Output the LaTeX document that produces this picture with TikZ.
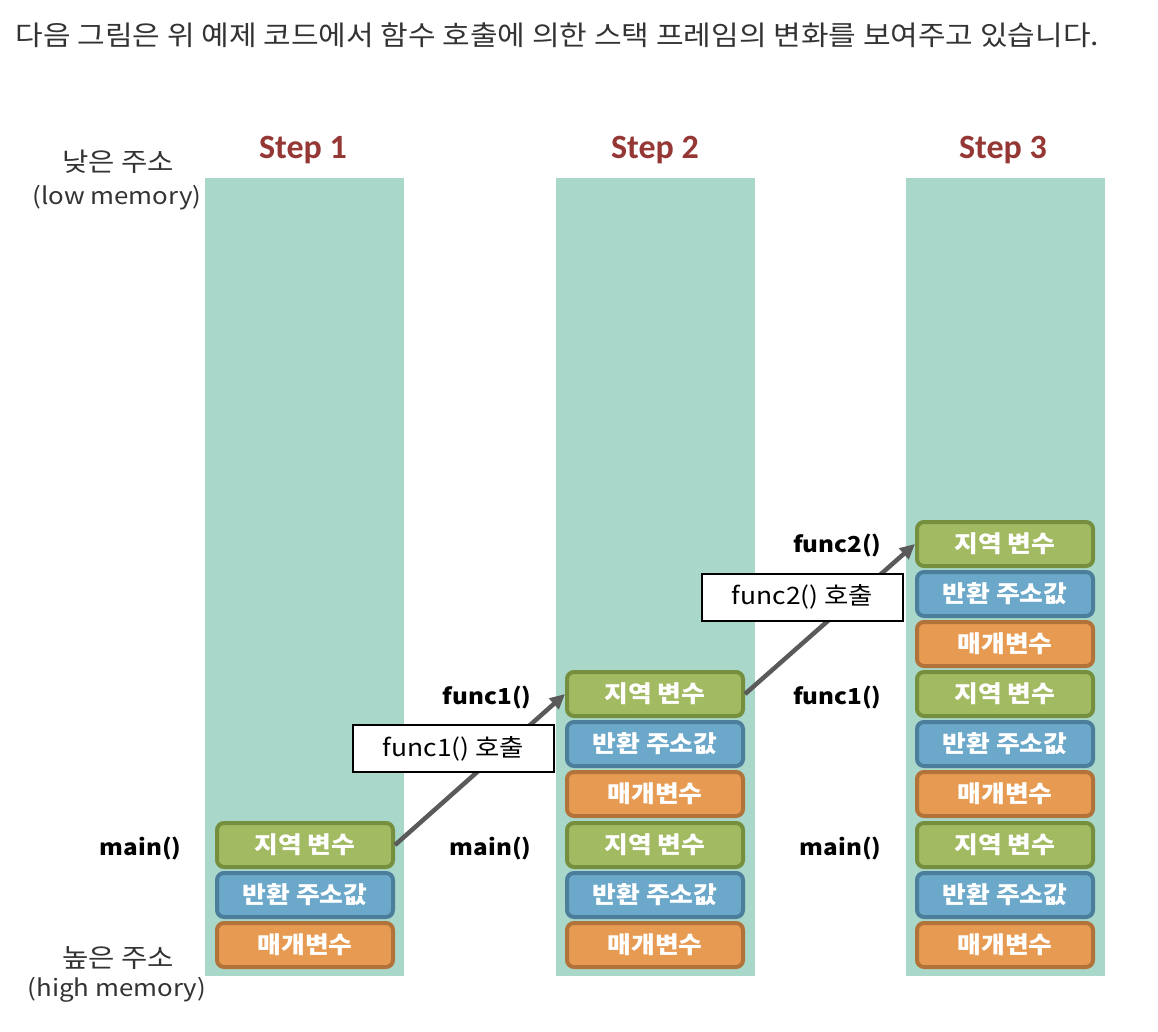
\documentclass[tikz,border=0pt]{standalone}
\usepackage{fontspec}
\setmainfont{Noto Sans CJK KR}[FakeStretch=1.1]
\newfontfamily\stepfont{Carlito}
\usetikzlibrary{arrows.meta}
\definecolor{colfill}{HTML}{A9D7CA}
\definecolor{lgreen}{HTML}{A2BA61}
\definecolor{dgreen}{HTML}{768F3F}
\definecolor{lblue}{HTML}{6BA8C9}
\definecolor{dblue}{HTML}{4B7E9B}
\definecolor{lorange}{HTML}{E79B52}
\definecolor{dorange}{HTML}{B2733A}
\definecolor{stepred}{HTML}{953735}
\definecolor{titlegray}{HTML}{333333}
\definecolor{arrowgray}{HTML}{5A5A5A}
\tikzset{
  stackcol/.style={fill=colfill, draw=none, minimum width=199pt, minimum height=798pt, inner sep=0pt},
  framebox/.style={rounded corners=7pt, line width=4pt, minimum width=176pt, minimum height=44pt, inner sep=0pt, text=white, font=\bfseries\fontsize{23.5}{23.5}\selectfont},
  locbox/.style={framebox, fill=lgreen, draw=dgreen},
  retbox/.style={framebox, fill=lblue, draw=dblue},
  parbox/.style={framebox, fill=lorange, draw=dorange},
  steplabel/.style={text=stepred, font=\stepfont\bfseries\fontsize{34}{34}\selectfont},
  fnlabel/.style={anchor=east, font=\bfseries\fontsize{22}{22}\selectfont, text=black},
  addrlabel/.style={font=\fontsize{23.5}{23.5}\selectfont, text=titlegray},
  addrkor/.style={font=\fontsize{26}{26}\selectfont, text=titlegray},
  callbox/.style={draw=black, line width=2pt, fill=white, minimum width=201pt, minimum height=47pt, inner sep=0pt, font=\fontsize{24}{24}\selectfont},
  callarrow/.style={draw=arrowgray, line width=4.5pt, -{Triangle[length=15pt,width=14pt]}},
}
\begin{document}
\begin{tikzpicture}[x=1pt,y=-1pt]
\useasboundingbox (0,0) rectangle (1158,1032);
% title
\node[anchor=west, text=titlegray, font=\fontsize{27.3}{27.3}\selectfont] (title) at (12,35) {다음 그림은 위 예제 코드에서 함수 호출에 의한 스택 프레임의 변화를 보여주고 있습니다.};
% columns
\node[stackcol] (col1) at (304.5,577) {};
\node[stackcol] (col2) at (655.5,577) {};
\node[stackcol] (col3) at (1005,577) {};
% step labels
\node[steplabel] (st1) at (303,150) {Step 1};
\node[steplabel] (st2) at (655,150) {Step 2};
\node[steplabel] (st3) at (1003,150) {Step 3};
% address labels
\node[addrkor] (low1) at (118,162) {낮은 주소};
\node[addrlabel] (low2) at (117,198) {(low memory)};
\node[addrkor] (high1) at (118,958) {높은 주소};
\node[addrlabel] (high2) at (117,990) {(high memory)};
% step 1
\node[locbox] (a-loc) at (305,845) {지역 변수};
\node[retbox] (a-ret) at (305,895) {반환 주소값};
\node[parbox] (a-par) at (305,945) {매개변수};
\node[fnlabel] (a-main) at (185,848) {main()};
% step 2
\node[locbox] (b1-loc) at (655,694) {지역 변수};
\node[retbox] (b1-ret) at (655,744) {반환 주소값};
\node[parbox] (b1-par) at (655,794) {매개변수};
\node[locbox] (b-loc) at (655,845) {지역 변수};
\node[retbox] (b-ret) at (655,895) {반환 주소값};
\node[parbox] (b-par) at (655,945) {매개변수};
\node[fnlabel] (b-main) at (535,848) {main()};
\node[fnlabel] (b-f1) at (535,697) {func1()};
% step 3
\node[locbox] (c2-loc) at (1005,544) {지역 변수};
\node[retbox] (c2-ret) at (1005,594) {반환 주소값};
\node[parbox] (c2-par) at (1005,644) {매개변수};
\node[locbox] (c1-loc) at (1005,694) {지역 변수};
\node[retbox] (c1-ret) at (1005,744) {반환 주소값};
\node[parbox] (c1-par) at (1005,794) {매개변수};
\node[locbox] (c-loc) at (1005,845) {지역 변수};
\node[retbox] (c-ret) at (1005,895) {반환 주소값};
\node[parbox] (c-par) at (1005,945) {매개변수};
\node[fnlabel] (c-main) at (885,848) {main()};
\node[fnlabel] (c-f1) at (885,697) {func1()};
\node[fnlabel] (c-f2) at (885,545) {func2()};
% arrows
\draw[callarrow] (a-loc.east) -- (b1-loc.west);
\draw[callarrow] (b1-loc.east) -- (c2-loc.west);
% call boxes
\node[callbox] (call1) at (453.5,748.5) {func1() 호출};
\node[callbox] (call2) at (802.5,597) {func2() 호출};
\end{tikzpicture}
\end{document}
